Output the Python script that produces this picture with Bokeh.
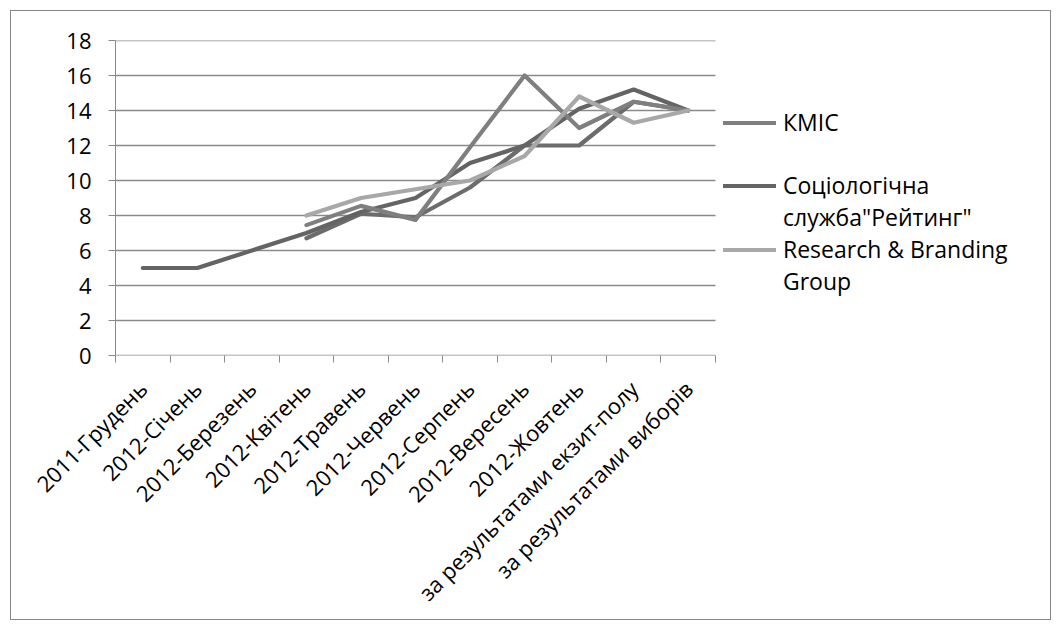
import math
from bokeh.plotting import figure
from bokeh.models import Range1d, FixedTicker, Legend, LegendItem
from bokeh.embed import file_html
from bokeh.resources import INLINE

nan = float("nan")

categories = ["2011-Грудень", "2012-Січень", "2012-Березень", "2012-Квітень",
              "2012-Травень", "2012-Червень", "2012-Серпень", "2012-Вересень",
              "2012-Жовтень", "за результатами екзит-полу", "за результатами виборів"]

kmis = [nan, nan, nan, 7.45, 8.55, 7.75, 11.9, 16.0, 13.0, 14.5, 14.0]
rating = [5.0, 5.0, 6.0, 7.0, 8.2, 9.0, 11.0, 12.0, 14.1, 15.2, 14.0]
rb = [nan, nan, nan, 8.0, 9.0, 9.5, 10.0, 11.4, 14.8, 13.3, 14.0]
other = [nan, nan, nan, 6.7, 8.1, 7.9, 9.6, 12.0, 12.0, 14.5, 14.0]

y_ticks = [0, 2, 4, 6, 8, 10, 12, 14, 16, 18]

FONT = "Open Sans"
FS = "22px"

xs = list(range(len(categories)))
n = len(categories)

W, H = 1041, 610
BL, BT, BB, BR = 104, 29, 266, 11
plot_w = 600.0                      # width of the category area in px
frame_w = W - BL - BR
x_end = -0.5 + frame_w * n / plot_w  # frame extends right to hold the legend

p = figure(width=W, height=H, output_backend="svg", toolbar_location=None,
           x_range=Range1d(-0.5, x_end), y_range=Range1d(0, 18),
           min_border_left=BL, min_border_top=BT, min_border_bottom=BB,
           min_border_right=BR)
p.outline_line_color = None
p.styles = {"border": "1px solid #868686", "margin": "10px 0 0 10px"}

p.xgrid.visible = False
p.ygrid.visible = False
# horizontal gridlines limited to the category area
p.segment(x0=[-0.5] * len(y_ticks), x1=[n - 0.5] * len(y_ticks), y0=y_ticks, y1=y_ticks,
          line_color="#8a8a8a", line_width=1.3)

p.yaxis.ticker = FixedTicker(ticks=y_ticks)
p.yaxis.axis_line_color = "#8a8a8a"
p.yaxis.major_tick_line_color = "#8a8a8a"
p.yaxis.major_tick_out = 7
p.yaxis.major_tick_in = 0
p.yaxis.minor_tick_line_color = None
p.yaxis.major_label_text_font = FONT
p.yaxis.major_label_text_font_size = FS
p.yaxis.major_label_text_color = "#000000"
p.yaxis.major_label_standoff = 17

p.xaxis.ticker = FixedTicker(ticks=xs, minor_ticks=[i - 0.5 for i in range(n + 1)])
p.xaxis.major_label_overrides = {i: c for i, c in enumerate(categories)}
p.xaxis.axis_line_color = None
p.xaxis.major_tick_line_color = None
p.xaxis.major_tick_out = 0
p.xaxis.minor_tick_line_color = "#8a8a8a"
p.xaxis.minor_tick_out = 7
p.xaxis.minor_tick_in = 0
p.xaxis.major_label_orientation = math.pi / 4
p.xaxis.major_label_text_font = FONT
p.xaxis.major_label_text_font_size = FS
p.xaxis.major_label_text_color = "#000000"
p.xaxis.major_label_standoff = 22

LW = 4.2
common = dict(line_width=LW, line_cap="round", line_join="round")
r_other = p.line(xs, other, line_color="#6c6c6c", **common)
r_rating = p.line(xs, rating, line_color="#646464", **common)
r_kmis = p.line(xs, kmis, line_color="#7f7f7f", **common)
r_rb = p.line(xs, rb, line_color="#a8a8a8", **common)
r_blank = p.line([nan], [nan], line_alpha=0)

legend = Legend(items=[
    LegendItem(label="КМІС", renderers=[r_kmis]),
    LegendItem(label=" ", renderers=[r_blank]),
    LegendItem(label="Соціологічна", renderers=[r_rating]),
    LegendItem(label='служба"Рейтинг"', renderers=[r_blank]),
    LegendItem(label="Research & Branding", renderers=[r_rb]),
    LegendItem(label="Group", renderers=[r_blank]),
], location=(608, 58))
legend.label_text_font = FONT
legend.label_text_font_size = "23px"
legend.label_text_color = "#000000"
legend.label_height = 31
legend.glyph_height = 31
legend.glyph_width = 53
legend.label_standoff = 7
legend.spacing = 0
legend.padding = 0
legend.margin = 0
legend.border_line_alpha = 0
legend.background_fill_alpha = 0
p.add_layout(legend)

open("out.html", "w").write(file_html(p, INLINE))
